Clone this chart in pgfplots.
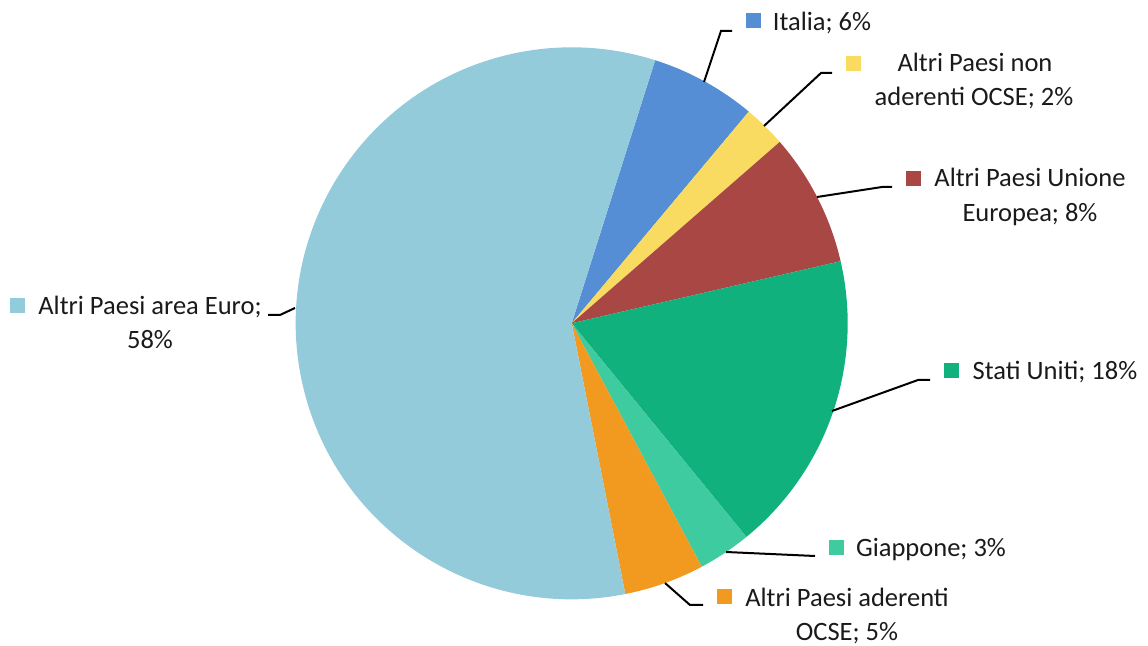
\documentclass[border=0pt]{standalone}
\usepackage{pgfplots}
\pgfplotsset{compat=1.18}
\usepackage{pgfplotstable}
\usepackage{fontspec}
\setmainfont{Carlito}
\definecolor{pie0}{HTML}{558ED5}% Italia
\definecolor{pie1}{HTML}{FADB62}% Altri Paesi non aderenti OCSE
\definecolor{pie2}{HTML}{A94745}% Altri Paesi Unione Europea
\definecolor{pie3}{HTML}{11B17E}% Stati Uniti
\definecolor{pie4}{HTML}{3ECB9F}% Giappone
\definecolor{pie5}{HTML}{F29A20}% Altri Paesi aderenti OCSE
\definecolor{pie6}{HTML}{93CBDB}% Altri Paesi area Euro
\definecolor{txt}{HTML}{1A1A1A}
\newcommand\lbl{\fontsize{13.25pt}{16pt}\selectfont}

\pgfplotstableread{
idx value
0 6.2
1 2.5
2 7.8
3 17.7
4 3.1
5 4.7
6 58.0
}\piedata

\begin{document}
\begin{tikzpicture}
\pgfmathsetmacro\cur{72.4}
\pgfplotsforeachungrouped \i in {0,...,6}{%
  \pgfplotstablegetelem{\i}{value}\of\piedata
  \pgfmathsetmacro\nxt{\cur-3.6*\pgfplotsretval}%
  \expandafter\xdef\csname sa\i\endcsname{\cur}%
  \expandafter\xdef\csname ea\i\endcsname{\nxt}%
  \xdef\cur{\nxt}%
}
\begin{axis}[at={(0,0)}, anchor=south west, width=574pt, height=323pt,
  scale only axis, xmin=0, xmax=1148, ymin=0, ymax=646, y dir=reverse,
  hide axis, clip=false, enlargelimits=false]
\pgfplotsinvokeforeach{0,...,6}{
  \fill[fill=pie#1] (axis cs:571.7,323.3) -- ++(\csname sa#1\endcsname:138pt)
    arc[start angle=\csname sa#1\endcsname, end angle=\csname ea#1\endcsname, radius=138pt] -- cycle;
}
% leader lines
\draw[line width=1pt] (axis cs:704,82) -- (axis cs:721,31) -- (axis cs:732,31);
\draw[line width=1pt] (axis cs:764,126) -- (axis cs:821,73) -- (axis cs:832,73);
\draw[line width=1pt] (axis cs:817,197) -- (axis cs:882,187) -- (axis cs:892,187);
\draw[line width=1pt] (axis cs:832,411) -- (axis cs:918,380) -- (axis cs:930,380);
\draw[line width=1pt] (axis cs:726,552) -- (axis cs:815,556);
\draw[line width=1pt] (axis cs:665,583) -- (axis cs:690,605) -- (axis cs:703,605);
\draw[line width=1pt] (axis cs:295,308) -- (axis cs:280,315) -- (axis cs:268,315);
% legend squares
\fill[pie0] (axis cs:745.5,13.5) rectangle (axis cs:760.5,28.5);
\fill[pie1] (axis cs:845.5,56.5) rectangle (axis cs:860.5,71.5);
\fill[pie2] (axis cs:905.5,171.5) rectangle (axis cs:920.5,186.5);
\fill[pie3] (axis cs:943.5,363.5) rectangle (axis cs:958.5,378.5);
\fill[pie4] (axis cs:828.5,540.5) rectangle (axis cs:843.5,555.5);
\fill[pie5] (axis cs:716.5,589.5) rectangle (axis cs:731.5,604.5);
\fill[pie6] (axis cs:9.5,298.5) rectangle (axis cs:24.5,313.5);
% labels
\begin{scope}[every node/.style={anchor=base, font=\lbl, text=txt, inner sep=0pt}]
\node at (axis cs:822,31) {Italia; 6\%};
\node at (axis cs:975,72) {Altri Paesi non};
\node at (axis cs:974,106) {aderenti OCSE; 2\%};
\node at (axis cs:1030,187) {Altri Paesi Unione};
\node at (axis cs:1030,222) {Europea; 8\%};
\node at (axis cs:1055,380) {Stati Uniti; 18\%};
\node at (axis cs:931,557) {Giappone; 3\%};
\node at (axis cs:847,607) {Altri Paesi aderenti};
\node at (axis cs:847,641) {OCSE; 5\%};
\node at (axis cs:150,315) {Altri Paesi area Euro;};
\node at (axis cs:150,349) {58\%};
\end{scope}
\end{axis}
\pgfresetboundingbox
\path (0,0) rectangle (574pt,323pt);
\end{tikzpicture}
\end{document}
